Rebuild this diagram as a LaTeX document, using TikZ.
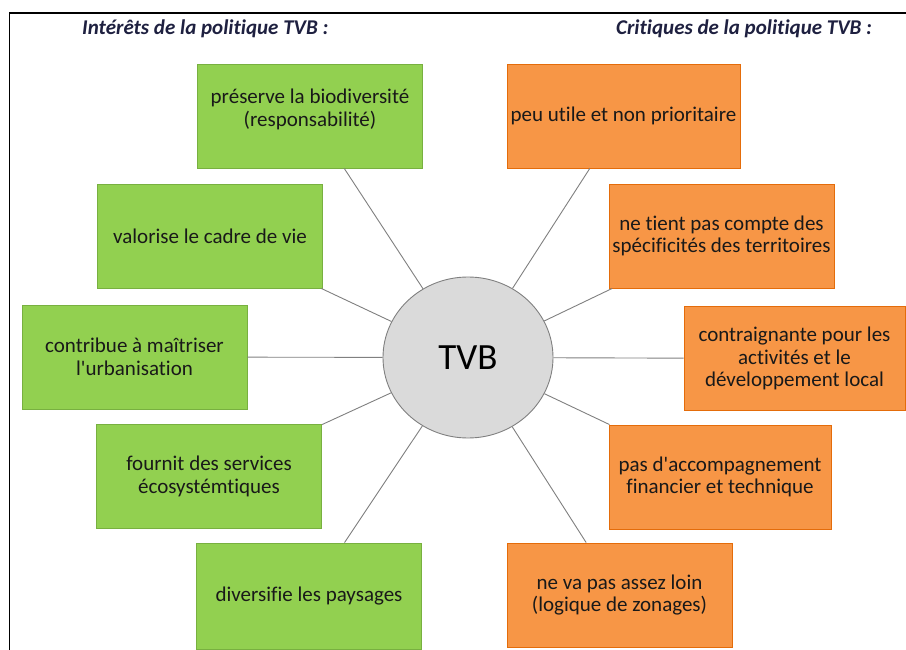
\documentclass[tikz,border=0pt]{standalone}
\usepackage{fontspec}
\setmainfont{Carlito}[Ligatures=NoCommon]
\usetikzlibrary{shapes.geometric}
\definecolor{vert}{HTML}{92D050}
\definecolor{vertbord}{HTML}{78B040}
\definecolor{orange}{HTML}{F79646}
\definecolor{orangebord}{HTML}{E46C0A}
\definecolor{gris}{HTML}{DADADA}
\definecolor{trait}{HTML}{808080}
\definecolor{titre}{HTML}{1E2040}
\tikzset{
  boite/.style={rectangle,line width=0.9pt,minimum width=225,minimum height=104,
    align=center,inner sep=2pt,text=black!90,font=\fontsize{21}{22.5}\selectfont},
  pour/.style={boite,draw=vertbord,fill=vert},
  contre/.style={boite,draw=orangebord,fill=orange},
  titrebox/.style={anchor=base west,inner sep=0pt,text=titre,
    font=\fontsize{21}{24}\selectfont\bfseries\itshape},
  lien/.style={draw=trait,line width=0.9pt}
}
\begin{document}
\begin{tikzpicture}[x=1pt,y=-1pt]
\useasboundingbox[fill=white] (0,0) rectangle (906,650);
\draw[line width=1.5pt] (9.5,650) -- (9.5,13) -- (906,13);
\node[titrebox] (tp) at (82,35) {Intérêts de la politique TVB :};
\node[titrebox] (tc) at (616,35) {Critiques de la politique TVB :};
\node[ellipse,draw=trait,fill=gris,line width=0.9pt,minimum width=170,minimum height=161,
  inner sep=0pt,font=\fontsize{37}{40}\selectfont] (tvb) at (468,357.5) {TVB};
\node[pour] (p1) at (310,116) {préserve la biodiversité\\(responsabilité)\\[-6pt]\mbox{}};
\node[pour] (p2) at (210,236) {valorise le cadre de vie};
\node[pour] (p3) at (134.5,357) {contribue à maîtriser\\l\textquotesingle urbanisation};
\node[pour] (p4) at (209,476.5) {fournit des services\\écosystémtiques};
\node[pour,minimum height=106] (p5) at (309,596) {diversifie les paysages};
\node[contre,minimum width=233] (c1) at (623.5,116) {peu utile et non prioritaire};
\node[contre] (c2) at (721.5,236) {ne tient pas compte des\\spécificités des territoires};
\node[contre,minimum width=221] (c3) at (794.5,358.5) {contraignante pour les\\activités et le\\développement local};
\node[contre,minimum width=222] (c4) at (720,477) {pas d\textquotesingle accompagnement\\financier et technique};
\node[contre] (c5) at (619.5,595) {ne va pas assez loin\\(logique de zonages)};
\foreach \b in {p1,p2,p3,p4,p5,c1,c2,c3,c4,c5}
  \draw[lien] (tvb) -- (\b);
\end{tikzpicture}
\end{document}
